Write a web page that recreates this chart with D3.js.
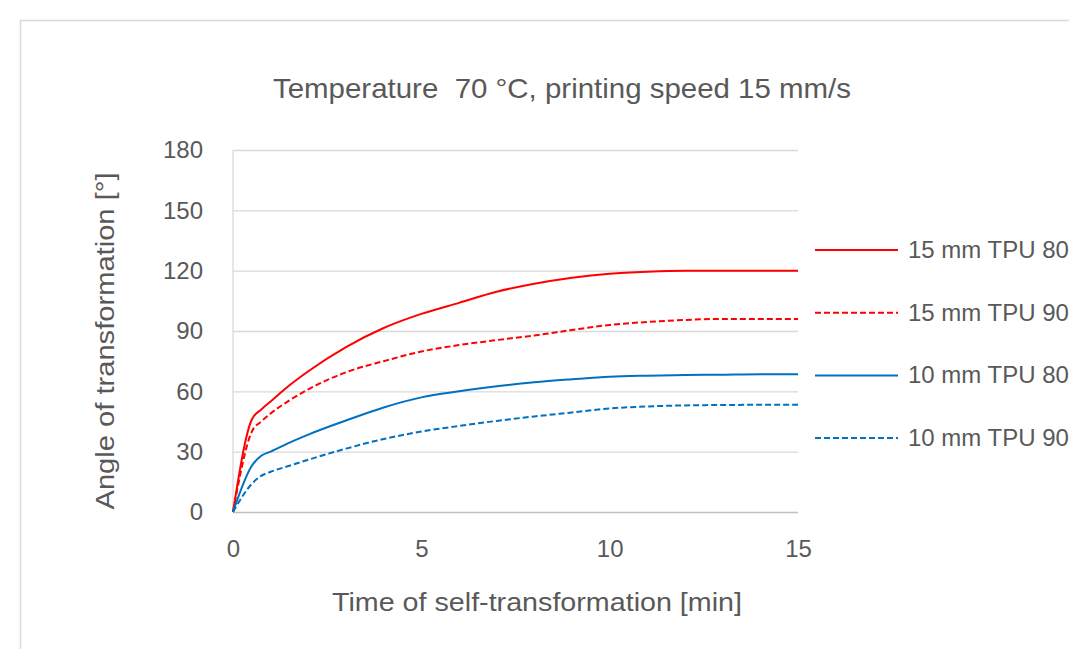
<!DOCTYPE html>
<html>
<head>
<meta charset="utf-8">
<script src="https://cdn.jsdelivr.net/npm/d3@7"></script>
<style>
  body { margin: 0; background: #fff; overflow: hidden; }
  text { font-family: "Liberation Sans", sans-serif; fill: #595959; white-space: pre; }
</style>
</head>
<body>
<script>
// time [min]
const times = [0, 0.5, 0.75, 1, 1.5, 2, 3, 4, 5, 6, 7, 8, 9, 10, 11, 12, 13, 14, 15];
// angle of transformation [°]
const mm15_80A = [0, 46, 51, 55, 63, 70, 82, 91.5, 98.5, 104, 109.5, 113.5, 116.5, 118.5, 119.5, 120, 120, 120, 120];
const mm15_90A = [0, 40, 45, 49, 55.5, 61, 69.5, 75, 79.8, 83, 85.5, 87.8, 90.5, 93, 94.5, 95.5, 96, 96, 96];
const mm10_80A = [0, 23, 28, 30, 34.5, 38.5, 45.5, 52, 57, 60, 62.5, 64.5, 66, 67.3, 67.8, 68.1, 68.3, 68.5, 68.5];
const mm10_90A = [0, 14, 18, 20, 23, 26, 31.5, 36.3, 40, 42.8, 45.3, 47.5, 49.5, 51.5, 52.5, 53, 53.2, 53.3, 53.3];

const seriesNames = ['15 mm TPU 80A', '15 mm TPU 90A', '10 mm TPU 80A', '10 mm TPU 90A'];
const seriesValues = [mm15_80A, mm15_90A, mm10_80A, mm10_90A];
const seriesColors = ['#ff0000', '#ff0000', '#0070c0', '#0070c0'];
const seriesDashed = [false, true, false, true];

const xTicks = [0, 5, 10, 15];
const yTicks = [0, 30, 60, 90, 120, 150, 180];

const svgWidth = 1069;
const svgHeight = 649;
const margin = { top: 150, left: 233 };
const width = 565;
const height = 362;

const svg = d3.select('body').append('svg')
  .attr('width', svgWidth)
  .attr('height', svgHeight);

// chart frame (runs off the right and bottom edges)
svg.append('rect')
  .attr('x', 20.5).attr('y', 20.5)
  .attr('width', 1100).attr('height', 700)
  .attr('fill', 'none')
  .attr('stroke', '#d9d9d9')
  .attr('stroke-width', 1.5);

const g = svg.append('g')
  .attr('transform', `translate(${margin.left}, ${margin.top})`);

const x = d3.scaleLinear().domain([0, 15]).range([0, width]);
const y = d3.scaleLinear().domain([0, 180]).range([height, 0]);

// gridlines
g.append('g')
  .call(d3.axisLeft(y).tickValues(yTicks).tickSize(-width).tickFormat(''))
  .call(a => a.select('.domain').remove())
  .call(a => a.selectAll('line').attr('stroke', d => d === 0 ? '#bfbfbf' : '#d9d9d9').attr('stroke-width', 1.3));

// left axis line
g.append('line')
  .attr('x1', 0).attr('x2', 0)
  .attr('y1', 0).attr('y2', height)
  .attr('stroke', '#d9d9d9').attr('stroke-width', 1.3);

// y tick labels
g.append('g')
  .call(d3.axisLeft(y).tickValues(yTicks).tickSize(0).tickPadding(30))
  .call(a => a.select('.domain').remove())
  .call(a => a.selectAll('text').style('font-size', '24px').attr('fill', '#595959'));

// x tick labels
g.append('g')
  .attr('transform', `translate(0, ${height})`)
  .call(d3.axisBottom(x).tickValues(xTicks).tickSize(0).tickPadding(28))
  .call(a => a.select('.domain').remove())
  .call(a => a.selectAll('text').style('font-size', '24px').attr('fill', '#595959'));
g.selectAll('.tick text').attr('font-family', null);

// lines
const line = d3.line()
  .x((d, i) => x(times[i]))
  .y(d => y(d))
  .curve(d3.curveMonotoneX);

seriesValues.forEach((vals, k) => {
  g.append('path')
    .datum(vals)
    .attr('d', line)
    .attr('fill', 'none')
    .attr('stroke', seriesColors[k])
    .attr('stroke-width', 2)
    .attr('stroke-dasharray', seriesDashed[k] ? '6,3' : null);
});

// legend (cut off by the right edge, as in the source image)
const legend = svg.append('g').attr('transform', 'translate(815, 250)');
seriesNames.forEach((name, k) => {
  const row = legend.append('g').attr('transform', `translate(0, ${k * 62.7})`);
  row.append('line')
    .attr('x1', 0).attr('x2', 83)
    .attr('stroke', seriesColors[k])
    .attr('stroke-width', 2)
    .attr('stroke-dasharray', seriesDashed[k] ? '6,3' : null);
  row.append('text')
    .attr('x', 93).attr('y', 8)
    .style('font-size', '24px')
    .text(name);
});

// title
svg.append('text')
  .attr('x', 562).attr('y', 98)
  .attr('text-anchor', 'middle')
  .attr('textLength', 578)
  .attr('lengthAdjust', 'spacingAndGlyphs')
  .style('font-size', '28px')
  .text('Temperature  70 °C, printing speed 15 mm/s');

// axis titles
svg.append('text')
  .attr('x', 537).attr('y', 611)
  .attr('text-anchor', 'middle')
  .attr('textLength', 410)
  .attr('lengthAdjust', 'spacingAndGlyphs')
  .style('font-size', '26px')
  .text('Time of self-transformation [min]');

svg.append('text')
  .attr('transform', 'translate(114, 341) rotate(-90)')
  .attr('text-anchor', 'middle')
  .attr('textLength', 337)
  .attr('lengthAdjust', 'spacingAndGlyphs')
  .style('font-size', '26px')
  .text('Angle of transformation [°]');
</script>
</body>
</html>
